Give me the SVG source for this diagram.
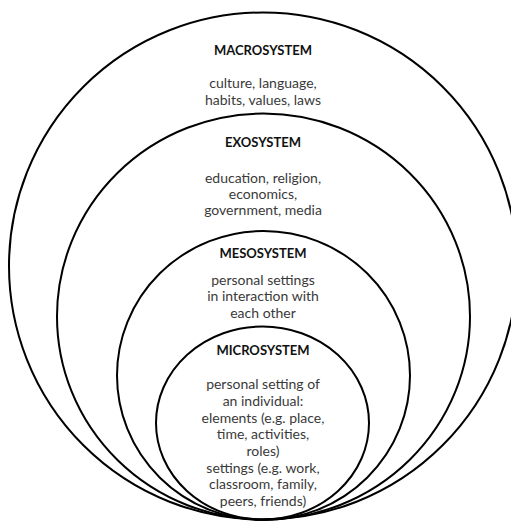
<svg xmlns="http://www.w3.org/2000/svg" width="511" height="521" viewBox="0 0 511 521">
<style>
.ring{fill:none;stroke:#000;stroke-width:2}
.t{font-family:Lato,"Liberation Sans",sans-serif;font-weight:bold;font-size:13px;fill:#111;text-anchor:middle}
.b{font-family:Lato,"Liberation Sans",sans-serif;font-size:14px;fill:#3a3a3a;text-anchor:middle}
</style>
<rect width="511" height="521" fill="#fff"/>
<g id="macrosystem">
<ellipse class="ring" cx="263" cy="266" rx="254" ry="253.5"/>
<text class="t" x="263" y="55">MACROSYSTEM</text>
<text class="b" x="263" y="88">culture, language,</text>
<text class="b" x="263" y="105">habits, values, laws</text>
</g>
<g id="exosystem">
<ellipse class="ring" cx="263.5" cy="316.5" rx="206.5" ry="203"/>
<text class="t" x="263" y="147">EXOSYSTEM</text>
<text class="b" x="263" y="183">education, religion,</text>
<text class="b" x="263" y="199">economics,</text>
<text class="b" x="263" y="215">government, media</text>
</g>
<g id="mesosystem">
<ellipse class="ring" cx="263.5" cy="375.5" rx="146.5" ry="144.5"/>
<text class="t" x="263" y="258">MESOSYSTEM</text>
<text class="b" x="263" y="285">personal settings</text>
<text class="b" x="263" y="301">in interaction with</text>
<text class="b" x="263" y="318">each other</text>
</g>
<g id="microsystem">
<ellipse class="ring" cx="262.5" cy="423" rx="106.5" ry="96.5"/>
<text class="t" x="263" y="355">MICROSYSTEM</text>
<text class="b" x="263" y="389">personal setting of</text>
<text class="b" x="263" y="406">an individual:</text>
<text class="b" x="263" y="423">elements (e.g. place,</text>
<text class="b" x="263" y="439">time, activities,</text>
<text class="b" x="263" y="456">roles)</text>
<text class="b" x="263" y="473">settings (e.g. work,</text>
<text class="b" x="263" y="489">classroom, family,</text>
<text class="b" x="263" y="506">peers, friends)</text>
</g>
<g id="connectors"></g>
</svg>
